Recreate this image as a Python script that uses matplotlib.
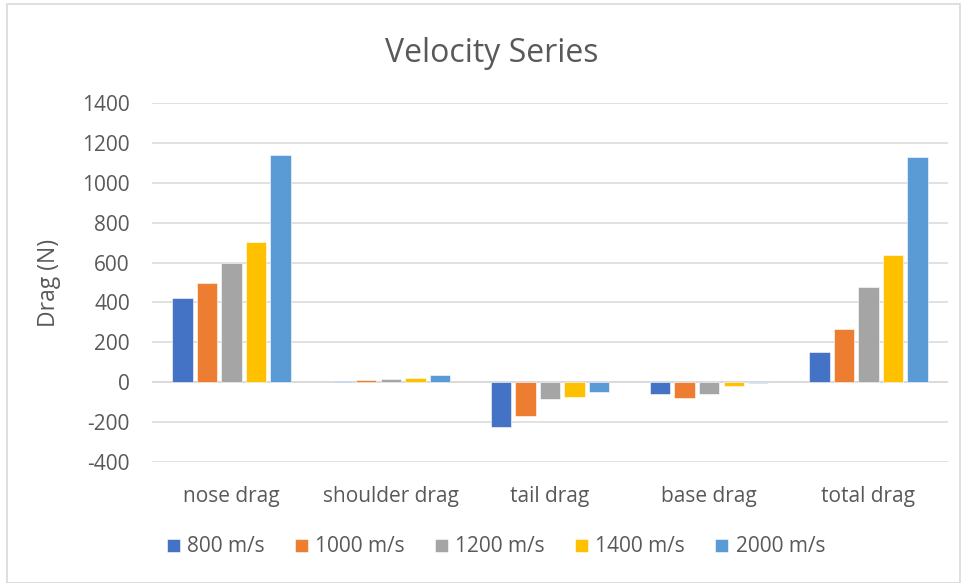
import matplotlib
matplotlib.use("Agg")
import matplotlib.pyplot as plt
import numpy as np
from matplotlib.patches import Rectangle

categories = ["nose drag", "shoulder drag", "tail drag", "base drag", "total drag"]
series_names = ["800 m/s", "1000 m/s", "1200 m/s", "1400 m/s", "2000 m/s"]
v800 = [420, 7, -225, -60, 150]
v1000 = [495, 10, -170, -78, 265]
v1200 = [600, 15, -82, -58, 477]
v1400 = [705, 20, -75, -18, 640]
v2000 = [1140, 35, -47, -3, 1130]
series_values = [v800, v1000, v1200, v1400, v2000]
colors = ["#4472C4", "#ED7D31", "#A5A5A5", "#FFC000", "#5B9BD5"]
yticks = [-400, -200, 0, 200, 400, 600, 800, 1000, 1200, 1400]

plt.rcParams['font.family'] = ['Open Sans', 'DejaVu Sans']
txt = "#595959"

W, H = 968, 583
fig = plt.figure(figsize=(W / 100, H / 100), dpi=100)
fig.patches.append(Rectangle((7 / W, 0), (960 - 7) / W, (H - 4) / H, transform=fig.transFigure,
                             fill=False, edgecolor="#D9D9D9", linewidth=1.2))
ax = fig.add_axes([152 / W, (H - 462) / H, (948 - 152) / W, (462 - 103) / H])

x = np.arange(len(categories))
step = 0.154
bw = 0.128
for i, (name, vals, c) in enumerate(zip(series_names, series_values, colors)):
    ax.bar(x + (i - 2) * step, vals, width=bw, color=c, label=name, zorder=3,
           edgecolor="white", linewidth=0.4)

ax.set_xlim(-0.5, len(categories) - 0.5)
ax.set_ylim(-400, 1400)
ax.set_yticks(yticks)
ax.set_yticklabels([str(t) for t in yticks])
ax.grid(axis="y", color="#D9D9D9", linewidth=1.1, zorder=0)
ax.axhline(0, color="#D9D9D9", linewidth=1.1, zorder=2)
for s in ax.spines.values():
    s.set_visible(False)
ax.tick_params(axis="both", length=0, colors=txt, labelsize=15)
ax.tick_params(axis="y", pad=16)
ax.tick_params(axis="x", pad=17)
ax.set_xticks(x)
ax.set_xticklabels(categories)
ax.set_ylabel("Drag (N)", fontsize=16.5, color=txt)
ax.yaxis.set_label_coords((61 - 152) / (948 - 152), 0.5)

fig.text(492 / W, 1 - 62 / H, "Velocity Series", ha="center", va="baseline", fontsize=23, color=txt)

leg = fig.legend(loc="center", bbox_to_anchor=(496 / W, 1 - 547 / H), ncol=5, frameon=False,
                 fontsize=15, handlelength=0.63, handleheight=0.58, handletextpad=0.34,
                 columnspacing=1.45, labelcolor=txt)

fig.savefig("out.png", dpi=100)
